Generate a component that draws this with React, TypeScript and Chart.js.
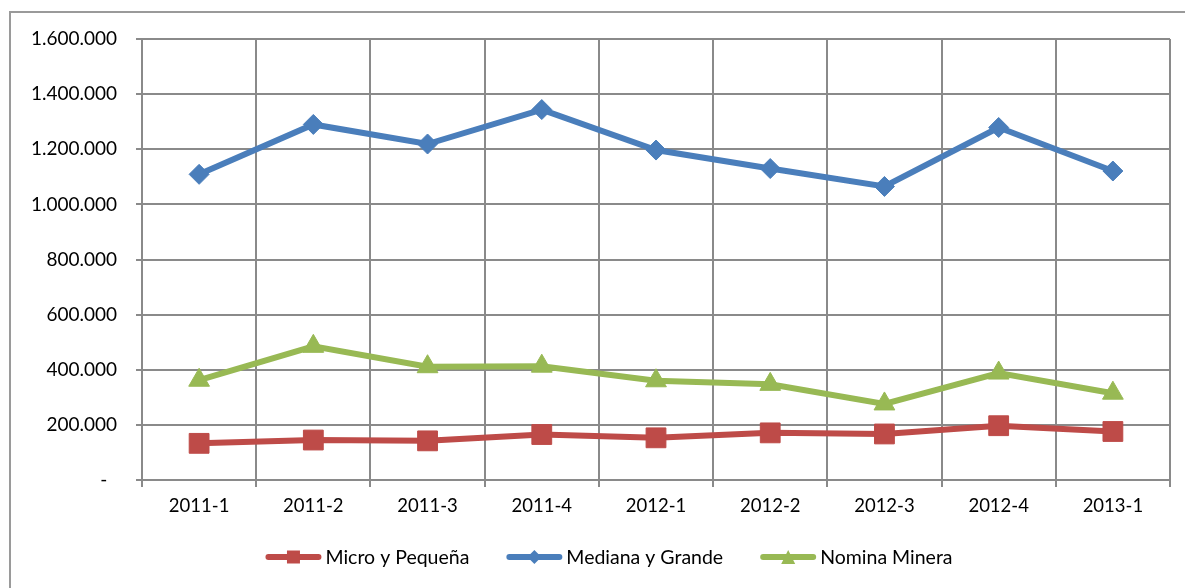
import React, { useEffect, useRef } from 'react';
import { Chart, registerables } from 'chart.js';

Chart.register(...registerables);

const categories = ['2011-1', '2011-2', '2011-3', '2011-4', '2012-1', '2012-2', '2012-3', '2012-4', '2013-1'];
const seriesLabels = ['Micro y Pequeña', 'Mediana y Grande', 'Nomina Minera'];
const microPequena = [133000, 145000, 142000, 165000, 153000, 171000, 167000, 197000, 176000];
const medianaGrande = [1109000, 1290000, 1219000, 1344000, 1197000, 1130000, 1065000, 1279000, 1121000];
const nominaMinera = [362000, 485000, 411000, 413000, 360000, 347000, 276000, 388000, 315000];
const yMin = 0;
const yMax = 1600000;
const yStep = 200000;

const FONT = 'Lato, "Open Sans", sans-serif';
const RED = '#be4b48';
const BLUE = '#4a7ebb';
const GREEN = '#98b954';
const GRID = '#8a8a8a';

function formatThousands(v: number): string {
  if (v === 0) return '-  ';
  return String(Math.round(v)).replace(/\B(?=(\d{3})+(?!\d))/g, '.');
}

function drawMarker(ctx: CanvasRenderingContext2D, style: string, x: number, y: number, s: number) {
  ctx.beginPath();
  if (style === 'rect') {
    ctx.rect(x - s / 2, y - s / 2, s, s);
  } else if (style === 'rectRot') {
    ctx.moveTo(x, y - s / 2);
    ctx.lineTo(x + s / 2, y);
    ctx.lineTo(x, y + s / 2);
    ctx.lineTo(x - s / 2, y);
    ctx.closePath();
  } else {
    ctx.moveTo(x, y - s / 2);
    ctx.lineTo(x + s / 2, y + s / 2);
    ctx.lineTo(x - s / 2, y + s / 2);
    ctx.closePath();
  }
  ctx.fill();
}

const legendPlugin = {
  id: 'excelLegend',
  afterDraw(chart: any) {
    const ctx: CanvasRenderingContext2D = chart.ctx;
    ctx.save();
    ctx.font = `19.5px ${FONT}`;
    const lineW = 56;
    const gapText = 4;
    const gapItem = 37;
    const items = chart.data.datasets.map((ds: any) => ({
      ds,
      w: lineW + gapText + ctx.measureText(ds.label).width,
    }));
    const total = items.reduce((a: number, it: any) => a + it.w, 0) + gapItem * (items.length - 1);
    let x = 609 - total / 2;
    const y = 557;
    items.forEach((it: any) => {
      const ds = it.ds;
      ctx.strokeStyle = ds.borderColor;
      ctx.fillStyle = ds.borderColor;
      ctx.lineWidth = 6;
      ctx.lineCap = 'round';
      ctx.beginPath();
      ctx.moveTo(x + 3, y);
      ctx.lineTo(x + lineW - 3, y);
      ctx.stroke();
      drawMarker(ctx, ds.pointStyle, x + lineW / 2, y, ds.pointStyle === 'rect' ? 13 : 14);
      ctx.fillStyle = '#000';
      ctx.textBaseline = 'middle';
      ctx.textAlign = 'left';
      ctx.fillText(ds.label, x + lineW + gapText, y + 1);
      x += it.w + gapItem;
    });
    ctx.restore();
  },
};

export default function App() {
  const canvasRef = useRef<HTMLCanvasElement | null>(null);

  useEffect(() => {
    if (!canvasRef.current) return;
    const chart = new Chart(canvasRef.current, {
      type: 'line',
      data: {
        labels: categories,
        datasets: [
          {
            label: seriesLabels[0],
            data: microPequena,
            borderColor: RED,
            backgroundColor: RED,
            borderWidth: 6,
            pointStyle: 'rect',
            pointRadius: 14,
            pointBorderWidth: 1,
            pointBackgroundColor: RED,
            pointBorderColor: RED,
            tension: 0,
          },
          {
            label: seriesLabels[1],
            data: medianaGrande,
            borderColor: BLUE,
            backgroundColor: BLUE,
            borderWidth: 6,
            pointStyle: 'rectRot',
            pointRadius: 10,
            pointBorderWidth: 1,
            pointBackgroundColor: BLUE,
            pointBorderColor: BLUE,
            tension: 0,
          },
          {
            label: seriesLabels[2],
            data: nominaMinera,
            borderColor: GREEN,
            backgroundColor: GREEN,
            borderWidth: 6,
            pointStyle: 'triangle',
            pointRadius: 12,
            pointBorderWidth: 1,
            pointBackgroundColor: GREEN,
            pointBorderColor: GREEN,
            tension: 0,
          },
        ],
      },
      options: {
        animation: false,
        responsive: false,
        maintainAspectRatio: false,
        devicePixelRatio: 1,
        layout: { padding: { top: 39, right: 14, bottom: 68, left: 0 } },
        plugins: {
          legend: { display: false },
          tooltip: { enabled: false },
          title: { display: false },
        },
        scales: {
          x: {
            type: 'category',
            offset: true,
            grid: {
              display: true,
              offset: true,
              color: GRID,
              lineWidth: 2,
              tickLength: 7,
              drawTicks: true,
            },
            border: { display: true, color: GRID, width: 2 },
            ticks: {
              color: '#000',
              font: { family: FONT, size: 18.5 },
              padding: 8,
              maxRotation: 0,
              autoSkip: false,
            },
            afterFit: (scale: any) => {
              scale.height = 40;
            },
          },
          y: {
            min: yMin,
            max: yMax,
            grid: {
              color: GRID,
              lineWidth: 2,
              tickLength: 6,
              drawTicks: true,
            },
            border: { display: true, color: GRID, width: 2 },
            ticks: {
              stepSize: yStep,
              color: '#000',
              font: { family: FONT, size: 19 },
              padding: 19,
              callback: (v: any) => formatThousands(Number(v)),
            },
            afterFit: (scale: any) => {
              scale.width = 142;
            },
          },
        },
      },
      plugins: [legendPlugin],
    });
    return () => chart.destroy();
  }, []);

  return (
    <div
      style={{
        position: 'fixed',
        left: 0,
        top: 0,
        width: 1185,
        height: 588,
        overflow: 'hidden',
        background: '#fff',
      }}
    >
      <div
        style={{
          position: 'absolute',
          left: 9,
          top: 11,
          width: 1300,
          height: 700,
          border: '2px solid #9a9a9a',
          boxSizing: 'border-box',
        }}
      />
      <canvas
        ref={canvasRef}
        width={1185}
        height={588}
        style={{ position: 'absolute', left: 0, top: 0, width: 1185, height: 588 }}
      />
    </div>
  );
}
